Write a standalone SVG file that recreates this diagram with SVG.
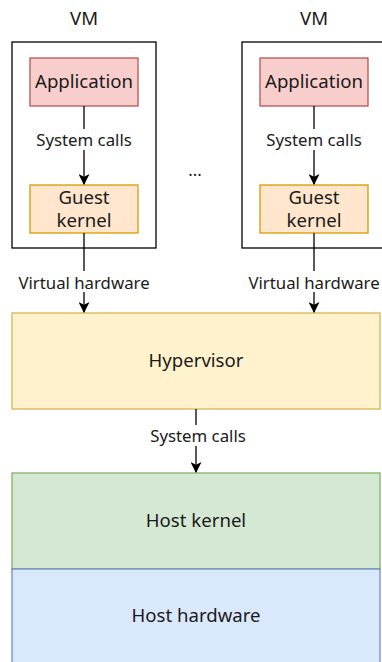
<svg xmlns="http://www.w3.org/2000/svg" width="382" height="662" viewBox="0 0 382 662">
<defs>
<style>
text{font-family:"Noto Sans","Open Sans","DejaVu Sans",sans-serif;fill:#1a1a1a;text-anchor:middle;dominant-baseline:central}
.big{font-size:18.6px}
.lbl{font-size:16.8px}
.vm{fill:#fff;stroke:#000;stroke-width:1.3}
.app{fill:#f8cecc;stroke:#b85450;stroke-width:1.3}
.gk{fill:#ffe6cc;stroke:#d79b00;stroke-width:1.3}
.hv{fill:#fff2cc;stroke:#d6b656;stroke-width:1.3}
.hk{fill:#d5e8d4;stroke:#82b366;stroke-width:1.3}
.hh{fill:#dae8fc;stroke:#6c8ebf;stroke-width:1.3}
.edge{stroke:#000;stroke-width:1.3;fill:none;marker-end:url(#arr)}
.bg{fill:#fff}
</style>
<marker id="arr" viewBox="0 0 10 10" refX="9" refY="5" markerWidth="11" markerHeight="11" markerUnits="userSpaceOnUse" orient="auto">
<path d="M0,0 L10,5 L0,10 L2.5,5 Z" fill="#000"/>
</marker>
</defs>
<g id="vm1">
<rect class="vm" x="12" y="42" width="144" height="206"/>
<text class="big" x="84" y="17">VM</text>
</g>
<g id="vm2">
<rect class="vm" x="242" y="42" width="144" height="206"/>
<text class="big" x="314" y="17">VM</text>
</g>
<g id="app1"><rect class="app" x="30" y="58" width="108" height="48"/><text class="big" x="84" y="80">Application</text></g>
<g id="gk1"><rect class="gk" x="30" y="185" width="108" height="48"/><text class="big" x="84" y="196">Guest</text><text class="big" x="84" y="219">kernel</text></g>
<g id="app2"><rect class="app" x="260" y="58" width="108" height="48"/><text class="big" x="314" y="80">Application</text></g>
<g id="gk2"><rect class="gk" x="260" y="185" width="108" height="48"/><text class="big" x="314" y="196">Guest</text><text class="big" x="314" y="219">kernel</text></g>
<g id="dots"><text class="lbl" x="195" y="169">...</text></g>
<g id="hypervisor"><rect class="hv" x="12" y="313" width="368" height="96"/><text class="big" x="196" y="359">Hypervisor</text></g>
<g id="hostkernel"><rect class="hk" x="12" y="473" width="368" height="96"/><text class="big" x="196" y="519">Host kernel</text></g>
<g id="hosthw"><rect class="hh" x="12" y="569" width="368" height="100"/><text class="big" x="196" y="614">Host hardware</text></g>
<g id="connectors">
<path class="edge" d="M84,106 L84,184"/>
<path class="edge" d="M314,106 L314,184"/>
<path class="edge" d="M84,233 L84,312"/>
<path class="edge" d="M314,233 L314,312"/>
<path class="edge" d="M196,409 L196,472"/>
<rect class="bg" x="34" y="129" width="100" height="21"/>
<text class="lbl" x="84" y="139">System calls</text>
<rect class="bg" x="264" y="129" width="100" height="21"/>
<text class="lbl" x="314" y="139">System calls</text>
<rect class="bg" x="17" y="271" width="136" height="21"/>
<text class="lbl" x="84" y="282">Virtual hardware</text>
<rect class="bg" x="247" y="271" width="135" height="21"/>
<text class="lbl" x="314" y="282">Virtual hardware</text>
<rect class="bg" x="148" y="425" width="98" height="21"/>
<text class="lbl" x="198" y="435">System calls</text>
</g>
</svg>
